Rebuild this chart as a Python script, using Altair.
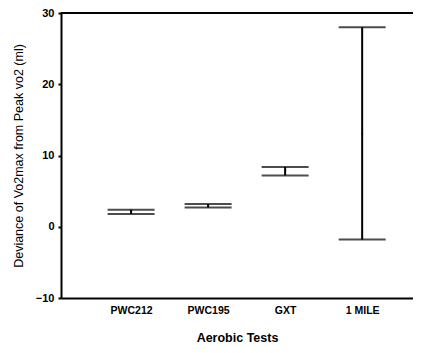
import altair as alt
import pandas as pd

tests = ["PWC212", "PWC195", "GXT", "1 MILE"]
means = [2.1, 2.95, 7.7, 13.0]
lows = [1.8, 2.7, 7.2, -1.8]
highs = [2.4, 3.2, 8.4, 28.0]

df = pd.DataFrame({
    "idx": list(range(1, len(tests) + 1)),
    "test": tests,
    "mean": means,
    "low": lows,
    "high": highs,
})

label_expr = "[" + ",".join("'%s'" % t for t in tests) + "][datum.value - 1]"

W, H = 352, 285

x = alt.X("idx:Q", scale=alt.Scale(domain=[0.09, 4.66], nice=False, zero=False),
          axis=alt.Axis(values=[1, 2, 3, 4], labelExpr=label_expr, title="Aerobic Tests",
                        ticks=False, grid=False, domainColor="black", domainWidth=2,
                        labelFont="Liberation Sans", labelFontWeight="bold", labelFontSize=10.5,
                        labelColor="black", labelPadding=7,
                        titleFont="Liberation Sans", titleFontWeight="bold", titleFontSize=12.5,
                        titleColor="black", titlePadding=16))
y_scale = alt.Scale(domain=[-10, 30], nice=False)
y_axis = alt.Axis(values=[-10, 0, 10, 20, 30], title="Deviance of Vo2max from Peak vo2 (ml)",
                  grid=False, domainColor="black", domainWidth=2, tickColor="black",
                  tickSize=3, tickWidth=2, labelFont="Liberation Sans", labelFontWeight="bold",
                  labelFontSize=11, labelColor="black", labelPadding=4,
                  titleFont="Liberation Sans", titleFontWeight="normal", titleFontSize=12.5,
                  titleColor="black", titlePadding=10)

base = alt.Chart(df)

rule = base.mark_rule(color="black", strokeWidth=2).encode(
    x=x, y=alt.Y("low:Q", scale=y_scale, axis=y_axis), y2="high:Q")
cap_lo = base.mark_tick(color="black", size=47, thickness=2, orient="horizontal").encode(
    x="idx:Q", y="low:Q")
cap_hi = base.mark_tick(color="black", size=47, thickness=2, orient="horizontal").encode(
    x="idx:Q", y="high:Q")
pt = base.mark_point(color="black", filled=True, size=6, shape="triangle-down").encode(
    x="idx:Q", y="mean:Q")
top = alt.Chart(pd.DataFrame({"v": [0]})).mark_rule(color="black", strokeWidth=2).encode(
    x=alt.value(0), x2=alt.value(W), y=alt.value(0))

chart = alt.layer(rule, cap_lo, cap_hi, pt, top).properties(
    width=W, height=H,
    autosize=alt.AutoSizeParams(type="none"),
    padding={"left": 53, "top": 5, "right": 0, "bottom": 46},
).configure_view(stroke=None).configure(background="white")

chart.save("out.html", embed_options={"renderer": "svg", "actions": False})
